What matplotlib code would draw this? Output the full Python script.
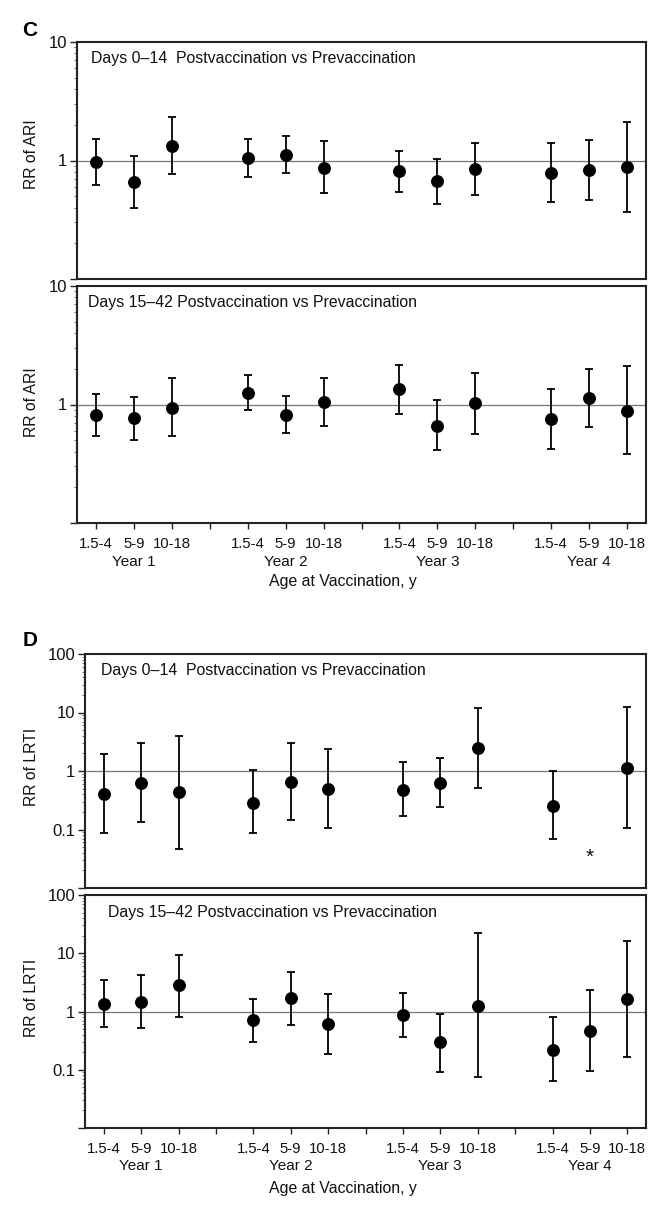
import numpy as np
import matplotlib.pyplot as plt
import matplotlib.ticker as mticker
from matplotlib.transforms import blended_transform_factory

plt.rcParams['font.family'] = ['Liberation Sans', 'DejaVu Sans']

ages = ['1.5-4', '5-9', '10-18']
years = ['Year 1', 'Year 2', 'Year 3', 'Year 4']

# panel C, RR of ARI
ari_early_rr = [0.97, 0.66, 1.32, 1.04, 1.11, 0.86, 0.81, 0.67, 0.85, 0.79, 0.83, 0.88]
ari_early_lo = [0.62, 0.40, 0.77, 0.73, 0.79, 0.53, 0.54, 0.43, 0.51, 0.45, 0.46, 0.37]
ari_early_hi = [1.52, 1.09, 2.35, 1.52, 1.60, 1.45, 1.21, 1.03, 1.40, 1.40, 1.48, 2.12]

ari_late_rr = [0.81, 0.77, 0.94, 1.26, 0.81, 1.05, 1.34, 0.66, 1.03, 0.76, 1.14, 0.88]
ari_late_lo = [0.54, 0.50, 0.54, 0.90, 0.57, 0.66, 0.83, 0.41, 0.56, 0.42, 0.64, 0.38]
ari_late_hi = [1.23, 1.15, 1.68, 1.77, 1.18, 1.68, 2.16, 1.09, 1.86, 1.36, 2.00, 2.12]

# panel D, RR of LRTI (nan = not estimable, marked with *)
lrti_early_rr = [0.41, 0.62, 0.43, 0.285, 0.65, 0.50, 0.48, 0.63, 2.47, 0.253, np.nan, 1.14]
lrti_early_lo = [0.088, 0.133, 0.047, 0.088, 0.146, 0.107, 0.17, 0.243, 0.51, 0.068, np.nan, 0.107]
lrti_early_hi = [1.97, 3.04, 3.9, 1.03, 3.04, 2.37, 1.41, 1.67, 12.0, 0.99, np.nan, 12.6]

lrti_late_rr = [1.37, 1.48, 2.83, 0.71, 1.69, 0.61, 0.88, 0.30, 1.25, 0.22, 0.47, 1.61]
lrti_late_lo = [0.55, 0.52, 0.82, 0.294, 0.59, 0.186, 0.37, 0.092, 0.074, 0.065, 0.094, 0.167]
lrti_late_hi = [3.54, 4.31, 9.5, 1.65, 4.85, 1.98, 2.09, 0.89, 22.3, 0.80, 2.35, 16.1]

W, H = 665, 1213
txt = '#111111'
edge = '#222222'

# x positions: 3 ages per year, a gap between years
xpos = np.array([4 * y + a + 1 for y in range(4) for a in range(3)])
xticks = np.arange(1, 16)
xlabels = ['' if t % 4 == 0 else ages[(t - 1) % 4] for t in xticks]


def make_ax(l, r, t, b):
    return plt.gcf().add_axes([l / W, 1 - b / H, (r - l) / W, (b - t) / H])


def draw(ax, rr, lo, hi, ylim, ylab, title, tx, bottom):
    rr = np.array(rr); lo = np.array(lo); hi = np.array(hi)
    ax.set_yscale('log')
    ax.axhline(1, color='#777777', lw=0.9, zorder=1)
    ax.errorbar(xpos, rr, yerr=[rr - lo, hi - rr], fmt='o', color='black',
                ms=8.3, elinewidth=1.3, capsize=3, capthick=1.3, zorder=3)
    ax.set_xlim(0.5, 15.5)
    ax.set_ylim(*ylim)
    for s in ax.spines.values():
        s.set_color(edge)
        s.set_linewidth(1.5)
    ax.yaxis.set_major_locator(mticker.FixedLocator(ylab[0]))
    ax.yaxis.set_major_formatter(mticker.FixedFormatter(ylab[1]))
    ax.yaxis.set_minor_locator(mticker.LogLocator(base=10, subs=np.arange(2, 10)))
    ax.yaxis.set_minor_formatter(mticker.NullFormatter())
    ax.tick_params(axis='y', which='major', length=5, width=1, colors=edge,
                   labelcolor=txt, labelsize=12, pad=2)
    ax.tick_params(axis='y', which='minor', length=2.5, width=0.6, colors='#555555')
    ax.text(tx, 1 - 17 / ax.bbox.height, title, transform=ax.transAxes,
            fontsize=11.4, color=txt, va='center', ha='left')
    if bottom:
        ax.set_xticks(xticks)
        ax.set_xticklabels(xlabels)
        ax.tick_params(axis='x', length=4, width=1, colors=edge, labelcolor=txt,
                       labelsize=10.7, pad=6)
        tr = blended_transform_factory(ax.transData, ax.transAxes)
        for i, yr in enumerate(years):
            ax.text(4 * i + 2, -0.165, yr, transform=tr, ha='center', va='center',
                    fontsize=11, color=txt)
    else:
        ax.set_xticks([])


fig = plt.figure(figsize=(W / 100, H / 100), dpi=100)

c_ticks = ([0.1, 1, 10], ['', '1', '10'])
d_ticks = ([0.01, 0.1, 1, 10, 100], ['', '0.1', '1', '10', '100'])

ax1 = make_ax(77, 646, 42, 279)
draw(ax1, ari_early_rr, ari_early_lo, ari_early_hi, (0.1, 10), c_ticks,
     'Days 0\u201314  Postvaccination vs Prevaccination', 14 / 569, False)
ax2 = make_ax(77, 646, 286, 523)
draw(ax2, ari_late_rr, ari_late_lo, ari_late_hi, (0.1, 10), c_ticks,
     'Days 15\u201342 Postvaccination vs Prevaccination', 11 / 569, True)
ax3 = make_ax(85, 646, 654, 888)
draw(ax3, lrti_early_rr, lrti_early_lo, lrti_early_hi, (0.01, 100), d_ticks,
     'Days 0\u201314  Postvaccination vs Prevaccination', 16 / 561, False)
ax4 = make_ax(85, 646, 895, 1128)
draw(ax4, lrti_late_rr, lrti_late_lo, lrti_late_hi, (0.01, 100), d_ticks,
     'Days 15\u201342 Postvaccination vs Prevaccination', 23 / 561, True)

# not estimable marker
ax3.text(14, 0.033, '*', ha='center', va='center', fontsize=15, color=txt)

for y, lab in [(154, 'RR of ARI'), (402, 'RR of ARI'),
               (767, 'RR of LRTI'), (998, 'RR of LRTI')]:
    fig.text(32 / W, 1 - y / H, lab, rotation=90, ha='center', va='center',
             fontsize=11.3, color=txt)

fig.text(343 / W, 1 - 582 / H, 'Age at Vaccination, y', ha='center', va='center',
         fontsize=11.4, color=txt)
fig.text(343 / W, 1 - 1188 / H, 'Age at Vaccination, y', ha='center', va='center',
         fontsize=11.4, color=txt)

fig.text(30 / W, 1 - 30 / H, 'C', ha='center', va='center', fontsize=15,
         fontweight='bold', color='black')
fig.text(30 / W, 1 - 641 / H, 'D', ha='center', va='center', fontsize=15,
         fontweight='bold', color='black')

fig.savefig('out.png', dpi=100, facecolor='white')
